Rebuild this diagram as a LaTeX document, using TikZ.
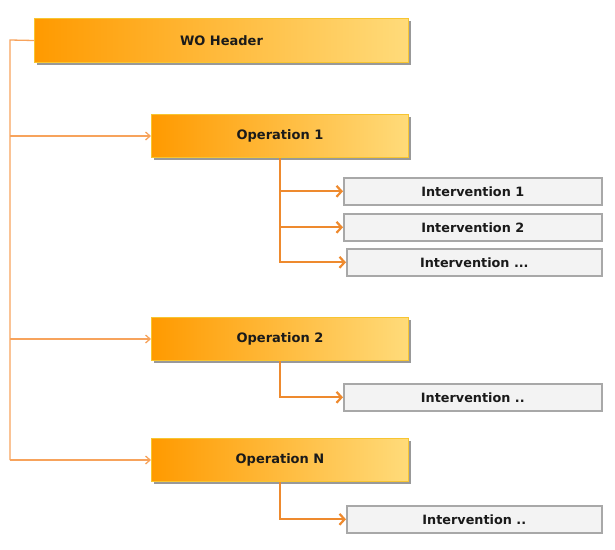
\documentclass[tikz,border=0pt]{standalone}
\usepackage{fontspec}
\setmainfont{DejaVu Sans}
\usetikzlibrary{arrows.meta,shadows}
\definecolor{gradL}{HTML}{FF9A00}
\definecolor{gradR}{HTML}{FFDB7A}
\definecolor{opborder}{HTML}{F7C531}
\definecolor{ivfill}{HTML}{F3F3F3}
\definecolor{ivborder}{HTML}{A8A8A8}
\definecolor{thinline}{HTML}{F7A35C}
\definecolor{thickline}{HTML}{EE8A2E}
\definecolor{txt}{HTML}{1A1A1A}
\tikzset{
  opbox/.style={draw=opborder, line width=1pt, left color=gradL, right color=gradR,
    anchor=north west, inner sep=0pt, text=txt, font=\fontsize{13}{15}\selectfont\bfseries,
    drop shadow={shadow xshift=2.5pt, shadow yshift=-2.5pt, fill=black!40, opacity=1}},
  ivbox/.style={draw=ivborder, line width=1.6pt, fill=ivfill, text=txt,
    anchor=north west, inner sep=0pt, font=\fontsize{12.8}{15}\selectfont\bfseries},
  thinarrow/.style={draw=thinline, line width=1.3pt, -{Straight Barb[length=4.5pt,width=8pt]}},
  thinline/.style={draw=thinline, line width=1.3pt},
  thickarrow/.style={draw=thickline, line width=2.2pt, -{Straight Barb[length=5pt,width=11pt,line width=2.2pt]}}
}
\begin{document}
\begin{tikzpicture}[x=1pt,y=-1pt]
\useasboundingbox (0,0) rectangle (615,549);
\node[opbox, minimum width=374pt, minimum height=44pt] (wo) at (34,18) {WO Header};
\node[opbox, minimum width=257pt, minimum height=43pt] (op1) at (151,114) {Operation 1};
\node[opbox, minimum width=257pt, minimum height=43pt] (op2) at (151,317) {Operation 2};
\node[opbox, minimum width=257pt, minimum height=43pt] (opN) at (151,438) {Operation N};
\node[ivbox, minimum width=258pt, minimum height=27pt] (i11) at (343,177) {Intervention 1};
\node[ivbox, minimum width=258pt, minimum height=27pt] (i12) at (343,213) {Intervention 2};
\node[ivbox, minimum width=255pt, minimum height=27pt] (i13) at (346,248) {Intervention ...};
\node[ivbox, minimum width=258pt, minimum height=27pt] (i21) at (343,383) {Intervention ..};
\node[ivbox, minimum width=255pt, minimum height=27pt] (iN1) at (346,505) {Intervention ..};
\coordinate (t0) at (10,40);
\draw[thinline] (wo.west) -- (t0) -- (t0 |- opN.west);
\draw[thinarrow] (t0 |- op1.west) -- (op1.west);
\draw[thinarrow] (t0 |- op2.west) -- (op2.west);
\draw[thinarrow] (t0 |- opN.west) -- (opN.west);
\draw[thickarrow] (op1.south) |- (i11.west);
\draw[thickarrow] (op1.south) |- (i12.west);
\draw[thickarrow] (op1.south) |- (i13.west);
\draw[thickarrow] (op2.south) |- (i21.west);
\draw[thickarrow] (opN.south) |- (iN1.west);
\end{tikzpicture}
\end{document}
